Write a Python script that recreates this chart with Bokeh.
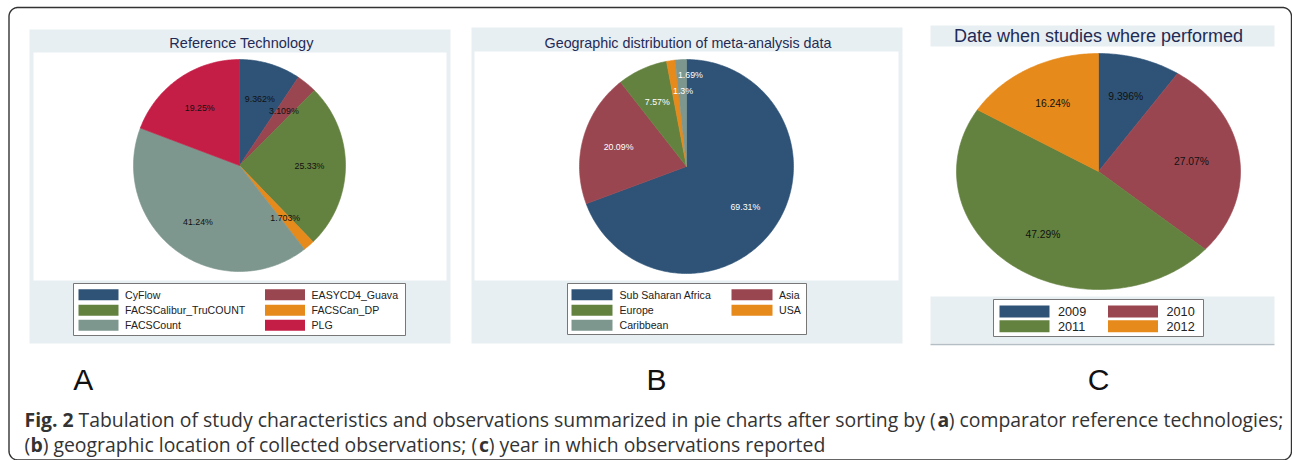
import numpy as np
from bokeh.plotting import figure
from bokeh.models import Range1d
from bokeh.embed import file_html
from bokeh.resources import INLINE
from bokeh.core.properties import value

# ---------------- data ----------------
tech_labels = ["CyFlow", "EASYCD4_Guava", "FACSCalibur_TruCOUNT", "FACSCan_DP", "FACSCount", "PLG"]
tech_pct = [9.362, 3.109, 25.33, 1.703, 41.24, 19.25]
tech_text = ["9.362%", "3.109%", "25.33%", "1.703%", "41.24%", "19.25%"]

geo_labels = ["Sub Saharan Africa", "Asia", "Europe", "USA", "Caribbean"]
geo_pct = [69.31, 20.09, 7.57, 1.3, 1.69]
geo_text = ["69.31%", "20.09%", "7.57%", "1.3%", "1.69%"]

year_labels = ["2009", "2010", "2011", "2012"]
year_pct = [9.396, 27.07, 47.29, 16.24]
year_text = ["9.396%", "27.07%", "47.29%", "16.24%"]

titles = ["Reference Technology", "Geographic distribution of meta-analysis data",
          "Date when studies where performed"]
panel_letters = ["A", "B", "C"]

caption_line1 = [("Fig. 2", "bold"),
                 ("Tabulation of study characteristics and observations summarized in pie charts after sorting by (", "normal"),
                 ("a", "bold"),
                 (") comparator reference technologies;", "normal")]
caption_line2 = [("(", "normal"),
                 ("b", "bold"),
                 (") geographic location of collected observations; (", "normal"),
                 ("c", "bold"),
                 (") year in which observations reported", "normal")]

# ---------------- styles ----------------
NAVY, MAROON, GREEN, ORANGE, TEAL, CRAN = "#2E5377", "#9A4650", "#64823F", "#E68A1B", "#7E978E", "#C41E46"
tech_colors = [NAVY, MAROON, GREEN, ORANGE, TEAL, CRAN]
geo_colors = [NAVY, MAROON, GREEN, ORANGE, TEAL]
year_colors = [NAVY, MAROON, GREEN, ORANGE]
BG = "#E8EFF2"
TITLE_C = "#1F2B55"
FONT = value("Liberation Sans")
CAP_FONT = value("Open Sans")

W, H = 1292, 460
p = figure(width=W, height=H, x_range=Range1d(0, W), y_range=Range1d(-H, 0),
           output_backend="svg", toolbar_location=None, min_border=0,
           x_axis_location=None, y_axis_location=None)
p.grid.visible = False
p.outline_line_color = None
p.background_fill_color = "white"
p.border_fill_color = "white"


def box(x0, y0, x1, y1, fill, line=None, lw=1):
    p.quad(left=[x0], right=[x1], top=[-y0], bottom=[-y1], fill_color=fill,
           line_color=line, line_width=lw)


def pie(cx, cy, rx, ry, pct, colors, texts, tcolor, fsize, lf=0.66, shift=None, rf=None):
    total = float(sum(pct))
    xs, ys, lx, ly = [], [], [], []
    cum = 0.0
    for i, v in enumerate(pct):
        a0 = np.pi / 2 - 2 * np.pi * cum / total
        a1 = a0 - 2 * np.pi * v / total
        n = max(4, int(abs(a1 - a0) * 60))
        t = np.linspace(a0, a1, n)
        xs.append(np.concatenate([[cx], cx + rx * np.cos(t)]))
        ys.append(np.concatenate([[-cy], -cy + ry * np.sin(t)]))
        mid = (a0 + a1) / 2 + (np.radians(shift[i]) if shift else 0)
        f = rf[i] if rf else lf
        lx.append(cx + f * rx * np.cos(mid))
        ly.append(-cy + f * ry * np.sin(mid))
        cum += v
    p.patches(xs=xs, ys=ys, fill_color=colors, line_color=colors, line_width=0.6)
    p.text(x=lx, y=ly, text=texts, text_color=tcolor, text_font=FONT,
           text_font_size=fsize, text_align="center", text_baseline="middle")


def legend(bx0, by0, bx1, by1, labels, colors, sw_x, sw_w, sw_h, rows_y, txt_x, fsize):
    box(bx0, by0, bx1, by1, "white", "#777777", 1)
    ncol = len(sw_x)
    for i, lab in enumerate(labels):
        c, r = i % ncol, i // ncol
        yc = rows_y[r]
        box(sw_x[c], yc - sw_h / 2, sw_x[c] + sw_w, yc + sw_h / 2, colors[i], None)
        p.text(x=[txt_x[c]], y=[-yc], text=[lab], text_color="#222222", text_font=FONT,
               text_font_size=fsize, text_align="left", text_baseline="middle")


# ---------------- panel A ----------------
box(29, 29, 450, 343, BG)
box(33, 52, 446, 280, "white")
p.text(x=[241], y=[-42.5], text=[titles[0]], text_color=TITLE_C, text_font=FONT,
       text_font_size="14.5px", text_align="center", text_baseline="middle")
pie(239, 165, 106, 106, tech_pct, tech_colors, tech_text, "#111111", "8.8px")
legend(73, 283, 405, 335, tech_labels, tech_colors, [78, 264.5], 40, 11,
       [294.3, 309.7, 324.7], [124.5, 311], "10.6px")

# ---------------- panel B ----------------
box(471, 27, 902, 343, BG)
box(474, 51, 898, 280, "white")
p.text(x=[687.5], y=[-42], text=[titles[1]], text_color=TITLE_C, text_font=FONT,
       text_font_size="14.3px", text_align="center", text_baseline="middle")
pie(686, 166, 107, 107, geo_pct, geo_colors, geo_text, "white", "8.8px",
    shift=[0, 0, 0, -5.8, -5.5], rf=[0.67, 0.66, 0.66, 0.71, 0.86])
legend(567, 283, 806, 334, geo_labels, geo_colors, [571, 731], 41, 11,
       [294.3, 309.7, 324.7], [619, 778.5], "10.6px")

# ---------------- panel C ----------------
box(930, 25, 1274, 46, BG)
box(930, 296, 1274, 343, BG)
p.line(x=[930, 1274], y=[-344, -344], line_color="#B4BEC4", line_width=1.5)
p.text(x=[1098], y=[-35.5], text=[titles[2]], text_color=TITLE_C, text_font=FONT,
       text_font_size="18px", text_align="center", text_baseline="middle")
pie(1098, 171, 142, 118, year_pct, year_colors, year_text, "#111111", "10.3px")
legend(993, 299, 1203, 336, year_labels, year_colors, [999, 1107.5], 50, 12,
       [311, 325.7], [1057.5, 1166], "12.7px")

# ---------------- panel letters ----------------
p.text(x=[82.7, 656, 1098], y=[-379, -379, -379], text=panel_letters, text_color="#111111",
       text_font=FONT, text_font_size="30px", text_align="center", text_baseline="middle")

# ---------------- caption ----------------
CAPC = "#333333"
line1_x = [24, 78, 937, 948.3]
line2_x = [24, 29.9, 42.2, 478.4, 488.2]
for segs, xs_, y in ((caption_line1, line1_x, 419), (caption_line2, line2_x, 444)):
    for (s, st), x in zip(segs, xs_):
        p.text(x=[x], y=[-y], text=[s], text_color=CAPC, text_font=CAP_FONT,
               text_font_size="19.4px", text_font_style=st, text_align="left",
               text_baseline="alphabetic")

# ---------------- rounded frame ----------------
r = 9
x0, x1, y0, y1 = 8.5, 1291, 7, 459.5
def arc(cx, cy, a, b):
    t = np.linspace(a, b, 16)
    return cx + r * np.cos(t), cy + r * np.sin(t)
parts = [arc(x0 + r, -(y0 + r), np.pi, np.pi / 2),
         arc(x1 - r, -(y0 + r), np.pi / 2, 0),
         arc(x1 - r, -(y1 - r), 0, -np.pi / 2),
         arc(x0 + r, -(y1 - r), -np.pi / 2, -np.pi)]
fx = np.concatenate([q[0] for q in parts] + [[x0]])
fy = np.concatenate([q[1] for q in parts] + [[-(y0 + r)]])
p.line(x=fx, y=fy, line_color="#333333", line_width=1.4)

open("out.html", "w").write(file_html(p, INLINE))
